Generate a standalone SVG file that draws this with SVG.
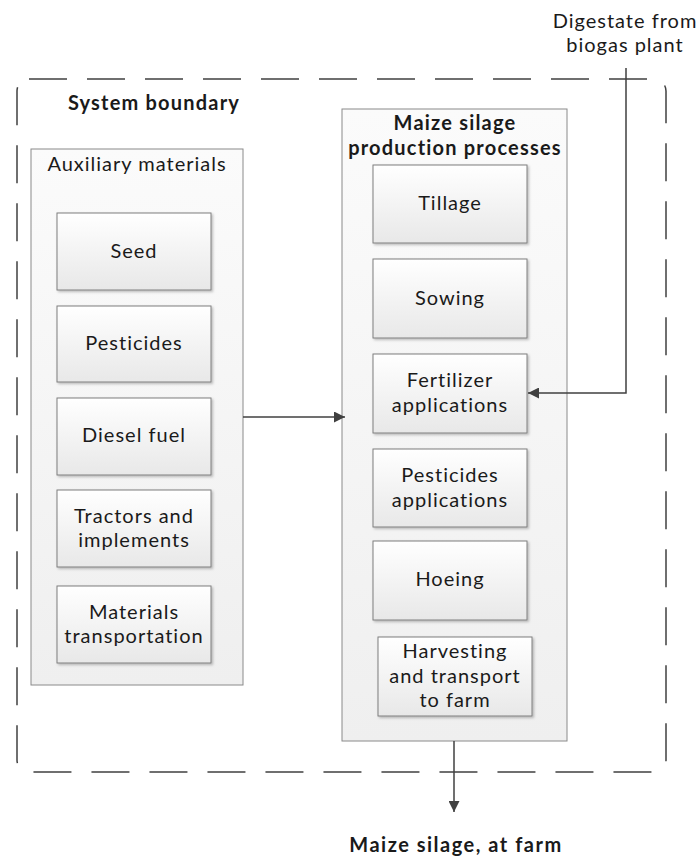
<svg xmlns="http://www.w3.org/2000/svg" width="699" height="858" viewBox="0 0 699 858">
<defs>
<linearGradient id="boxg" x1="0" y1="0" x2="0" y2="1">
<stop offset="0" stop-color="#ffffff"/>
<stop offset="1" stop-color="#e8e8e8"/>
</linearGradient>
<linearGradient id="contg" x1="0" y1="0" x2="0" y2="1">
<stop offset="0" stop-color="#fbfbfb"/>
<stop offset="1" stop-color="#efefef"/>
</linearGradient>
<marker id="arr" viewBox="0 0 10 10" refX="10" refY="5" markerWidth="11" markerHeight="11" markerUnits="userSpaceOnUse" orient="auto">
<path d="M0,0 L10,5 L0,10 z" fill="#404040"/>
</marker>
<filter id="sh" x="-10%" y="-10%" width="130%" height="130%">
<feDropShadow dx="1.5" dy="1.5" stdDeviation="1" flood-color="#000" flood-opacity="0.25"/>
</filter>
</defs>
<style>
text{font-family:Lato,"Open Sans","Liberation Sans",sans-serif;fill:#1a1a1a;font-size:20px;letter-spacing:1px;text-anchor:middle}
.b{font-weight:bold;letter-spacing:1.2px}
.box{fill:url(#boxg);stroke:#7f7f7f;stroke-width:1;filter:url(#sh)}
.cont{fill:url(#contg);stroke:#8a8a8a;stroke-width:1}
.con{fill:none;stroke:#404040;stroke-width:1.5}
</style>
<rect width="699" height="858" fill="#ffffff"/>
<g id="boundary">
<rect x="17" y="79" width="649" height="693" rx="12" fill="none" stroke="#404040" stroke-width="1.5" stroke-dasharray="38 20"/>
<text class="b" x="154" y="110">System boundary</text>
</g>
<g id="auxiliary">
<rect class="cont" x="31" y="149" width="212" height="536"/>
<text x="137" y="171">Auxiliary materials</text>
</g>
<g id="seed"><rect class="box" x="57" y="213" width="154" height="77"/><text x="134" y="258">Seed</text></g>
<g id="pesticides"><rect class="box" x="57" y="306" width="154" height="76"/><text x="134" y="350">Pesticides</text></g>
<g id="diesel"><rect class="box" x="57" y="398" width="154" height="77"/><text x="134" y="442">Diesel fuel</text></g>
<g id="tractors"><rect class="box" x="57" y="490" width="154" height="77"/><text x="134" y="523">Tractors and</text><text x="134" y="547">implements</text></g>
<g id="materials"><rect class="box" x="57" y="586" width="154" height="77"/><text x="134" y="619">Materials</text><text x="134" y="643">transportation</text></g>
<g id="maize">
<rect class="cont" x="342" y="109" width="225" height="632"/>
<text class="b" x="455" y="130">Maize silage</text>
<text class="b" x="455" y="155">production processes</text>
</g>
<g id="tillage"><rect class="box" x="373" y="165" width="154" height="78"/><text x="450" y="210">Tillage</text></g>
<g id="sowing"><rect class="box" x="373" y="259" width="154" height="79"/><text x="450" y="305">Sowing</text></g>
<g id="fertilizer"><rect class="box" x="373" y="354" width="154" height="79"/><text x="450" y="387">Fertilizer</text><text x="450" y="412">applications</text></g>
<g id="pestapp"><rect class="box" x="373" y="449" width="154" height="78"/><text x="450" y="482">Pesticides</text><text x="450" y="507">applications</text></g>
<g id="hoeing"><rect class="box" x="373" y="541" width="154" height="79"/><text x="450" y="586">Hoeing</text></g>
<g id="harvesting"><rect class="box" x="378" y="637" width="154" height="79"/><text x="455" y="658">Harvesting</text><text x="455" y="683">and transport</text><text x="455" y="707">to farm</text></g>
<g id="digestate"><text x="625" y="28">Digestate from</text><text x="625" y="52">biogas plant</text></g>
<g id="output"><text class="b" x="456" y="852" style="letter-spacing:1.5px">Maize silage, at farm</text></g>
<g id="connectors">
<path class="con" d="M626,68 V393 H528" marker-end="url(#arr)"/>
<path class="con" d="M243,417 H345" marker-end="url(#arr)"/>
<path class="con" d="M454,741 V812" marker-end="url(#arr)"/>
</g>
</svg>
